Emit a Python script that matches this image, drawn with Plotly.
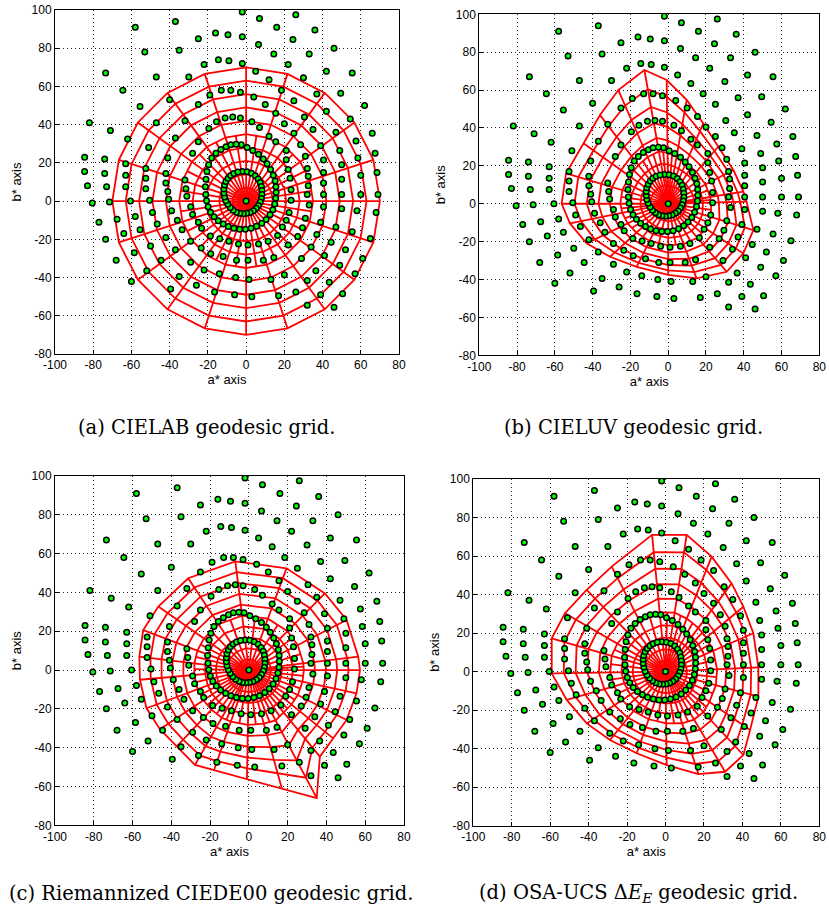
import numpy as np
import plotly.graph_objects as go

W, H = 829, 916

# ---------------- data: sample colours (a*, b*) shared by all four panels ----------------
ring1_a = [-2.0, 0.5, 2.8, 4.8, 6.3, 7.4, 8.0, 8.3, 8.3, 8.0, 7.4, 6.5, 5.3, 3.8, 2.1, 0.3, -1.5, -3.3, -5.1, -6.8,
           -8.3, -9.6, -10.6, -11.3, -11.6, -11.6, -11.3, -10.6, -9.5, -8.1, -6.4, -4.3]
ring1_b = [15.5, 15.3, 14.6, 13.3, 11.6, 9.7, 7.6, 5.5, 3.4, 1.4, -0.5, -2.3, -3.8, -5.0, -5.9, -6.4, -6.6, -6.4, -5.8, -4.8,
           -3.4, -1.7, 0.2, 2.2, 4.3, 6.4, 8.4, 10.3, 12.0, 13.4, 14.5, 15.2]
ring2_a = [-2.5, 0.5, 3.5, 6.5, 9.0, 11.0, 12.8, 14.2, 15.2, 15.6, 15.7, 15.5, 15.0, 14.0, 12.5, 10.5, 8.2, 5.5, 2.6, -0.4,
           -3.4, -6.4, -9.3, -12.0, -14.6, -16.8, -18.6, -19.9, -20.7, -21.1, -21.3, -21.0, -20.5, -19.6, -18.0, -15.8,
           -13.2, -10.5, -8.0, -5.2]
ring2_b = [29.5, 28.0, 26.5, 24.5, 22.0, 19.5, 16.5, 13.5, 10.5, 7.5, 4.5, 1.5, -1.5, -4.5, -7.2, -9.6, -11.6, -13.2, -14.2, -14.7,
           -14.7, -14.2, -13.3, -12.0, -10.3, -8.2, -5.8, -3.0, 0.2, 3.5, 7.5, 11.5, 15.5, 19.0, 22.5, 25.0,
           27.0, 28.5, 29.5, 29.8]
outer_a = [
    # ring 3
    -3, 3, 7, 12, 15.5, 21, 21, 22, 23, 23.5, 23.5, 22.5, 21, 19, 16.5, 11.5, 6.5, 1, -4, -9, -13.8, -18.7, -23.3,
    -25, -28, -29, -31, -31.5, -32, -28, -25, -19.5, -15.5, -11, -7,
    # ring 4
    -41, -37, -32, -25, -19, -13, -8, -3, 4, 10, 15.5, 20, 25, 28.5, 31, 32, 32.5, 32.5, 32, 33, 31, 29.5, 27, 22,
    14.5, 9, 1, -5, -12, -18.5, -23.5, -29, -33.5, -36, -39, -40.5, -41, -42, -42,
    # ring 5
    -52.5, -51, -47, -40, -30, -22, -14.5, -9, -2, 5, 12, 18.5, 25, 30.5, 35, 39, 40.5, 40.5, 40.5, 40.5, 40.5, 39,
    37, 34, 29, 20, 13, 1.5, -5.5, -14, -22, -29, -37, -42, -46.5, -49, -50.5, -52.5, -52.5,
    # ring 6
    -63, -62, -55.5, -47, -35, -25, -16, -9.5, -2, 6.5, 14.5, 22, 30, 37, 42, 47, 49, 50, 50, 50, 50, 47, 44.5, 41,
    36.5, 32, 26, 17, 3, -6, -16.5, -26, -35, -44.5, -50, -55.5, -58, -60.5, -63, -63,
    # ring 7
    -74, -71, -64.5, -53, -37, -2, 7, 16, 24.5, 33, 42, 49.5, 54.5, 57.5, 58.5, 60, 60, 58, 55.5, 52, 49, 43.5, 39,
    32, -39.5, -52, -58.5, -64, -67.5, -71.5, -73, -74,
    # ring 8
    -84.5, -82, -73.5, -58, 26, 36, 46, 55.5, 62, 66, 67.5, 68.5, 69, 68, 65, 61, 57, 50.5, 46, -60, -68, -73.5,
    -77, -80.5, -83, -84.5]
outer_b = [
    43.5, 41.5, 38.5, 34, 31, 26.5, 21.7, 16.5, 12, 6, 0.5, -6, -10, -13.5, -18, -21, -22.5, -23, -22.5, -21, -19.7,
    -18.3, -14.2, -11, -7, -3, 2.5, 6.5, 11, 25, 31, 38, 41.5, 43.5, 44,
    22.5, 33, 42, 50.5, 55.5, 58, 58, 57, 54.5, 50.5, 46, 40.5, 35.5, 29.5, 23.5, 17, 13, 8, 3.5, -2, -9, -14, -18.5,
    -23, -29.5, -31, -31, -31, -29, -27.5, -24.5, -21, -15, -10, -5, 1, 5, 9.5, 14.5,
    17, 28, 41, 53, 65, 71.5, 74, 73.5, 72, 68, 63.5, 58, 52.5, 44, 37.5, 29, 21.5, 15, 9.5, 3.5, -3, -11, -17.5,
    -24, -30, -38.5, -41, -41, -40, -38, -36, -32, -25.5, -19, -12, -6, 0.5, 6.5, 12,
    19.5, 32.5, 49.5, 65, 79, 85, 88, 87, 86, 82, 77, 71.5, 64.5, 56, 47, 36, 26.5, 19, 11.5, 3.5, -4, -13.5, -21.5,
    -28.5, -36.5, -41.5, -47.5, -49.5, -50, -49, -47.5, -44, -39.5, -31, -23.5, -15, -8, 0, 7.5, 13.5,
    22, 37, 58, 78, 94, 99, 95.5, 91, 84.5, 77, 68, 56.5, 43, 31.5, 22.5, 13.5, 3.5, -5, -16, -25.5, -33.5, -42.5,
    -49, -54.5, -46, -36.5, -27, -17, -9.5, -0.5, 7.5, 14.5,
    23, 41, 67, 91, 97.5, 89.5, 80, 67, 50, 35.5, 25, 15, 3.5, -6, -19.5, -30, -38, -48.5, -55.5, -42, -31, -20,
    -11, -1, 8, 15.5]
dots_a = [0.0] + ring1_a + ring2_a + outer_a
dots_b = [0.0] + ring1_b + ring2_b + outer_b

# ---------------- data: outer boundaries of the geodesic grids ----------------
lab_outer_r = 70
lab_spoke_deg = [0, 18, 36, 54, 72, 90, 108, 126, 144, 162, 180, 198, 216, 234, 252, 270, 288, 306, 324, 342]

luv_outer_a = [41.5, 39.8, 34.5, 26.5, 18.6, 9.8, -0.8, -12.6, -26.4, -36.1, -44.9, -54.1, -56.4, -52.0, -43.2,
               -30.8, -16.7, 0.0, 15.0, 31.0, 39.8, 45.1]
luv_outer_b = [1.1, 6.4, 17.8, 30.1, 42.4, 54.8, 65.3, 70.6, 60.0, 46.8, 31.9, 16.0, 0.0, -10.4, -20.9,
               -28.0, -33.3, -37.6, -39.4, -35.9, -26.2, -13.9]

de00_outer_a = [57.3, 56.4, 50.4, 39.2, 19.4, -7.0, -31.3, -46.7, -54.5, -56.5, -56.2, -52.8, -45.9, -37.3, -27.8,
                -18.0, -1.0, 17.0, 35.0, 36.6, 43.5, 50.4, 55.5]
de00_outer_b = [0.0, 6.9, 25.8, 39.5, 52.4, 56.0, 47.3, 32.7, 20.6, 6.9, -5.0, -19.7, -30.5, -39.4, -48.9,
                -51.6, -56.2, -61.0, -66.0, -44.6, -35.2, -25.7, -12.0]

osa_outer_a = [48.3, 45.7, 40.5, 34.4, 24.0, 11.0, -7.0, -28.0, -41.0, -52.3, -59.2, -59.2, -51.4, -41.0, -28.9,
               -15.0, 0.6, 17.1, 31.0, 40.5, 44.0, 48.3]
osa_outer_b = [2.2, 19.9, 33.7, 45.8, 59.7, 71.0, 71.0, 54.5, 42.4, 30.3, 17.3, -0.9, -14.7, -26.9, -35.5,
               -42.4, -48.5, -53.2, -52.0, -43.3, -30.3, -13.0]

n_rings = 10
n_minor = 5

captions = ["(a) CIELAB geodesic grid.", "(b) CIELUV geodesic grid.",
            "(c) Riemannized CIEDE00 geodesic grid.",
            "(d) OSA-UCS Δ<i>E</i><sub><i>E</i></sub> geodesic grid."]

x_ticks = [-100, -80, -60, -40, -20, 0, 20, 40, 60, 80]
y_ticks = [-80, -60, -40, -20, 0, 20, 40, 60, 80, 100]


def grid_xy(oa, ob, nr, nm, p):
    oa = np.asarray(oa, float)
    ob = np.asarray(ob, float)
    R = np.hypot(oa, ob)
    th = np.arctan2(ob, oa)
    Rm = np.median(R)
    n = len(oa)
    P = np.zeros((nr + 1, n, 2))
    for k in range(1, nr + 1):
        f = k / nr
        w = f ** p
        r = f * ((1 - w) * Rm + w * R)
        P[k, :, 0] = r * np.cos(th)
        P[k, :, 1] = r * np.sin(th)
    xs, ys = [], []

    def seg(x, y):
        xs.extend(list(x) + [None])
        ys.extend(list(y) + [None])

    for k in range(1, nr + 1):
        seg(np.append(P[k, :, 0], P[k, 0, 0]), np.append(P[k, :, 1], P[k, 0, 1]))
    for i in range(n):
        seg(P[:, i, 0], P[:, i, 1])
    M = (P + np.roll(P, -1, axis=1)) / 2
    for i in range(n):
        seg(M[:nm + 1, i, 0], M[:nm + 1, i, 1])
    return xs, ys


th_lab = np.deg2rad(lab_spoke_deg)
lab_a = lab_outer_r * np.cos(th_lab)
lab_b = lab_outer_r * np.sin(th_lab)

grids = [grid_xy(lab_a, lab_b, n_rings, n_minor, 1.0),
         grid_xy(luv_outer_a, luv_outer_b, n_rings, n_minor, 1.5),
         grid_xy(de00_outer_a, de00_outer_b, n_rings, n_minor, 3.0),
         grid_xy(osa_outer_a, osa_outer_b, n_rings, n_minor, 1.5)]

# panel plot areas in pixels (left, right, top, bottom)
boxes = [(55, 399, 10, 354), (479.3, 819.3, 14.3, 355.3), (55, 404, 476, 825.3), (473.3, 819.3, 479, 825.7)]
cap_pos = [(206, 427), (633, 427), (211, 893), (638, 893)]

fig = go.Figure()
for i, (gx, gy) in enumerate(grids):
    xa = "x" if i == 0 else f"x{i+1}"
    ya = "y" if i == 0 else f"y{i+1}"
    fig.add_trace(go.Scatter(x=gx, y=gy, mode="lines", xaxis=xa, yaxis=ya,
                             line=dict(color="#ff0000", width=1.8), hoverinfo="skip", showlegend=False))
    fig.add_trace(go.Scatter(x=dots_a, y=dots_b, mode="markers", xaxis=xa, yaxis=ya,
                             marker=dict(size=5.5, color="#00ff00", line=dict(color="#000000", width=1.5)),
                             showlegend=False))

tickfont = dict(family="Liberation Sans, Arial, sans-serif", size=12, color="#000000")
titlefont = dict(family="Liberation Sans, Arial, sans-serif", size=13, color="#000000")
layout = dict(width=W, height=H, margin=dict(l=0, r=0, t=0, b=0, autoexpand=False), paper_bgcolor="white",
              plot_bgcolor="white", showlegend=False)
for i, (l, r, t, b) in enumerate(boxes):
    xk = "xaxis" if i == 0 else f"xaxis{i+1}"
    yk = "yaxis" if i == 0 else f"yaxis{i+1}"
    xa = "x" if i == 0 else f"x{i+1}"
    ya = "y" if i == 0 else f"y{i+1}"
    common = dict(showgrid=True, gridcolor="#222222", griddash="1px,3px", gridwidth=1,
                  showline=True, linecolor="#000000", linewidth=1, mirror=True,
                  ticks="inside", ticklen=4, tickcolor="#000000", zeroline=False,
                  tickfont=tickfont, fixedrange=True, automargin=False, ticklabeloverflow="allow")
    layout[xk] = dict(domain=[l / W, r / W], range=[-100, 80], anchor=ya,
                      tickvals=x_ticks, ticktext=[str(v) for v in x_ticks],
                      title=dict(text="a* axis", font=titlefont, standoff=3), **common)
    layout[yk] = dict(domain=[1 - b / H, 1 - t / H], range=[-80, 100], anchor=xa,
                      tickvals=y_ticks, ticktext=[str(v) for v in y_ticks],
                      title=dict(text="b* axis", font=titlefont, standoff=7), **common)
fig.update_layout(**layout)

for txt, (cx, cy) in zip(captions, cap_pos):
    fig.add_annotation(x=cx / W, y=1 - cy / H, xref="paper", yref="paper", text=txt, showarrow=False,
                       font=dict(family="DejaVu Serif, Liberation Serif, serif", size=19.5, color="#000000"),
                       xanchor="center", yanchor="middle")

fig.write_html("out.html", config={"displayModeBar": False, "staticPlot": True},
               post_script="document.body.style.margin='0';document.body.style.padding='0';"
                           "document.documentElement.style.overflow='hidden';")
